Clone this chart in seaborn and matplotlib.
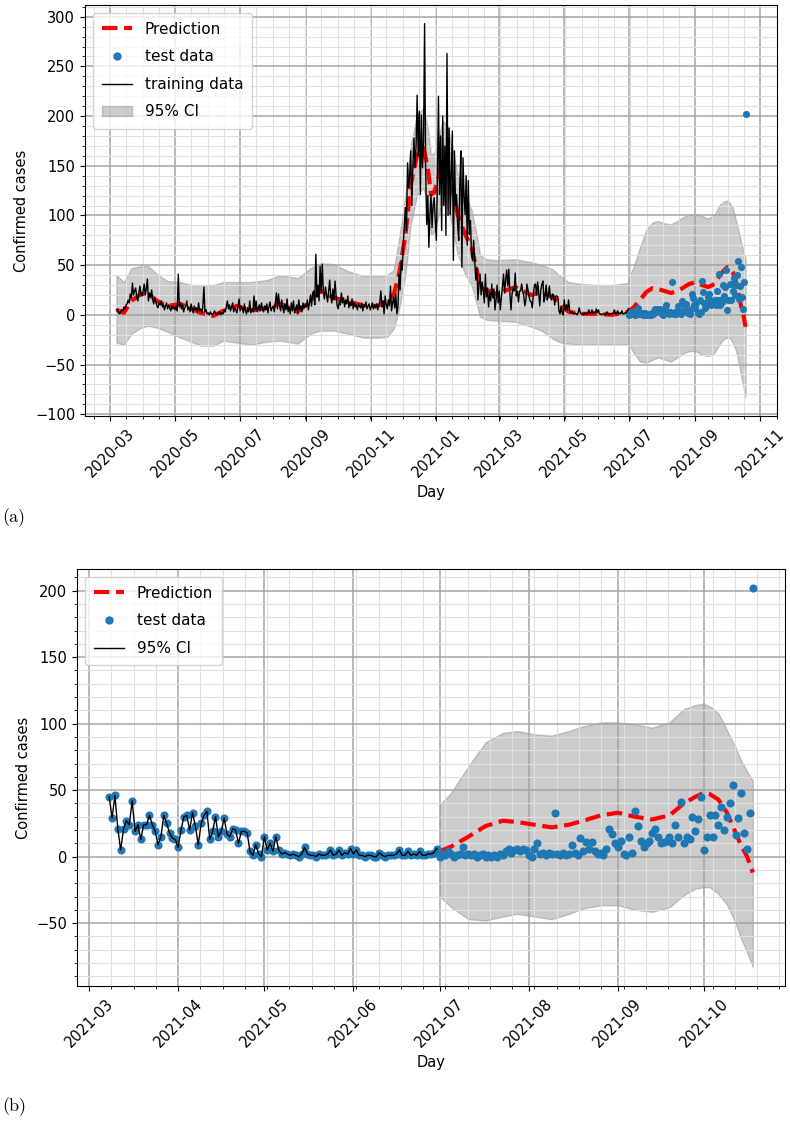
import numpy as np
import pandas as pd
import matplotlib
matplotlib.use("Agg")
import matplotlib.pyplot as plt
import matplotlib.dates as mdates
from matplotlib.lines import Line2D
from matplotlib.patches import Patch
import seaborn as sns

# ---------------- data ----------------
# daily training data, starting 2020-03-07
train_2020_03 = [5, 6, 2, 1, 3, 5, 4, 8, 6, 10, 11, 15, 12, 21, 17, 32, 20, 24, 27, 18, 14, 22, 29, 21, 19]
train_2020_04 = [24, 31, 20, 26, 36, 14, 22, 18, 25, 15, 11, 17, 13, 9, 7, 12, 10, 14, 8, 11, 5, 9, 12, 6, 10, 7, 4, 9, 6, 8]
train_2020_05 = [5, 9, 4, 41, 8, 12, 6, 10, 3, 7, 9, 14, 5, 8, 3, 11, 6, 2, 9, 5, 7, 3, 12, 4, 6, 2, 8, 28, 3, 5, 1]
train_2020_06 = [2, 0, 3, 1, 0, 2, 4, 1, 0, 2, 1, 3, 0, 2, 1, 5, 3, 8, 14, 6, 10, 4, 8, 12, 3, 7, 5, 2, 9, 16]
train_2020_07 = [4, 9, 6, 2, 11, 4, 1, 7, 3, 14, 2, 6, 3, 19, 5, 14, 3, 7, 10, 4, 12, 6, 3, 9, 5, 11, 2, 8, 13, 4, 7]
train_2020_08 = [9, 3, 12, 22, 6, 21, 9, 4, 15, 7, 2, 11, 5, 16, 3, 8, 1, 12, 4, 14, 2, 6, 10, 1, 15, 5, 9, 3, 12, 7, 10]
train_2020_09 = [8, 15, 5, 12, 20, 9, 22, 24, 10, 61, 18, 30, 14, 49, 22, 51, 25, 16, 28, 20, 13, 24, 35, 18, 12, 26, 15, 34, 19, 9]
train_2020_10 = [6, 14, 10, 22, 12, 17, 8, 15, 11, 19, 7, 13, 9, 16, 6, 12, 8, 10, 5, 11, 9, 7, 12, 4, 10, 8, 13, 6, 9, 11, 5]
train_2020_11 = [8, 12, 6, 10, 7, 11, 5, 9, 13, 24, 8, 14, 1, 19, 10, 6, 15, 9, 29, 4, 12, 18, 7, 21, 1, 8, 41, 25, 55, 45]
train_2020_12 = [70, 91, 108, 85, 153, 128, 140, 165, 110, 150, 178, 148, 170, 221, 160, 205, 121, 201, 148, 175,
                 293, 145, 91, 120, 68, 100, 121, 88, 110, 118, 95]
train_2021_01 = [75, 135, 220, 121, 180, 85, 200, 110, 170, 80, 263, 100, 188, 101, 140, 185, 55, 165, 110, 121,
                 90, 75, 130, 165, 48, 158, 120, 101, 140, 70, 135]
train_2021_02 = [81, 95, 60, 55, 75, 55, 35, 48, 15, 30, 41, 20, 33, 25, 12, 41, 18, 27, 8, 22, 14, 31, 17, 26, 5, 15, 30, 12]
train_2021_03a = [24, 5, 18, 28, 41, 22, 35]
# 2021-03-08 .. 2021-06-30 (also shown in panel b)
train_recent = [45, 29, 46, 21, 5, 21, 27, 24, 42, 19, 24, 13, 24, 24, 31, 24, 19, 9, 15, 31, 25, 18, 14, 13, 7,
                20, 30, 31, 20, 33, 23, 9, 25, 31, 34, 13, 19, 30, 15, 19, 29, 17, 15, 21, 20, 10, 19, 19, 18, 4,
                1, 9, 2, 0, 15, 5, 10, 4, 15, 5, 2,
                3, 2, 1, 2, 1, 0, 2, 7, 2, 1, 1, 0, 2, 1, 1, 2, 5, 1, 2, 5, 1, 3, 2, 6, 2, 5, 1, 1, 0, 1, 1, 0,
                0, 3, 1, 0, 1, 1, 1, 2, 5, 1, 1, 4, 1, 2, 1, 4, 1, 1, 2, 2, 3, 6]
# daily test data, starting 2021-07-01
test_values = [0, 2, 1, 4, 2, 0, 1, 2, 7, 1, 2, 1, 2, 0, 1, 2, 0, 1, 0, 1,
               0, 2, 1, 4, 6, 3, 5, 6, 4, 6, 5, 1, 0, 6, 10, 2, 3, 1, 3, 2,
               33, 2, 1, 3, 1, 2, 9, 3, 1, 14, 4, 11, 6, 11, 4, 2, 3, 1, 6, 21,
               17, 10, 7, 12, 2, 1, 15, 3, 34, 23, 12, 7, 10, 12, 18, 21, 15, 10, 11, 12,
               15, 10, 24, 15, 41, 10, 15, 13, 30, 19, 28, 45, 5, 15, 31, 15, 31, 24, 37, 20,
               30, 40, 54, 16, 29, 48, 18, 6, 33, 202]

# prediction mean and 95% CI at read-off dates
pred_dates = ["2020-03-07", "2020-03-14", "2020-03-21", "2020-03-30", "2020-04-06", "2020-04-14", "2020-04-24",
              "2020-05-06", "2020-05-16", "2020-05-25", "2020-06-06", "2020-06-15", "2020-06-28", "2020-07-11",
              "2020-07-26", "2020-08-08", "2020-08-24", "2020-09-05", "2020-09-14", "2020-09-27", "2020-10-10",
              "2020-10-25", "2020-11-07", "2020-11-16", "2020-11-22", "2020-11-27", "2020-12-03", "2020-12-08",
              "2020-12-14", "2020-12-20", "2020-12-24", "2020-12-27", "2020-12-30", "2021-01-07", "2021-01-11",
              "2021-01-16", "2021-01-21", "2021-01-28", "2021-02-03", "2021-02-08", "2021-02-11", "2021-02-17",
              "2021-02-26", "2021-03-16", "2021-03-31", "2021-04-10", "2021-04-20", "2021-04-28", "2021-05-05",
              "2021-05-17", "2021-06-01", "2021-06-15", "2021-06-30",
              "2021-07-01", "2021-07-05", "2021-07-11", "2021-07-17", "2021-07-23", "2021-07-28", "2021-08-03",
              "2021-08-09", "2021-08-15", "2021-08-20", "2021-08-26", "2021-09-01", "2021-09-07", "2021-09-13",
              "2021-09-19", "2021-09-24", "2021-09-28", "2021-10-01", "2021-10-03", "2021-10-06", "2021-10-09",
              "2021-10-12", "2021-10-14", "2021-10-16", "2021-10-18"]
pred_values = [5, 2, 14, 21, 21, 14, 9, 11, 6, 2, -1, 4, 9, 4, 7, 11, 3, 14, 24, 17, 14, 9, 9, 14, 20, 41, 80, 131,
               161, 168, 148, 121, 123, 155, 151, 128, 101, 81, 68, 45, 28, 25, 21, 28, 20, 23, 18, 10, 3, 1, 1, 0, 3,
               4, 7.5, 15, 23, 27, 26, 24, 22, 24, 27, 31, 33, 30, 28, 31, 40, 45, 48, 47, 43, 33, 18, 8, 0, -12]
ci_lower = [-28, -30, -19, -13, -11, -13, -17, -23, -27, -31, -31, -26, -28, -30, -27, -26, -29, -19, -16, -16, -19,
            -23, -23, -22, -14, 5, 40, 91, 121, 128, 108, 81, 83, 115, 111, 88, 61, 41, 30, 10, -2, -5, -6, -7, -12,
            -16, -24, -28, -29, -30, -30, -30, -30,
            -30, -38, -47, -48, -45, -43, -45, -47, -43, -39, -36.5, -36.5, -40, -41.5, -38, -29, -24, -23, -23, -28,
            -36, -50, -62, -72, -83]
ci_upper = [40, 33, 47, 49, 49, 41, 34, 33, 30, 30, 30, 33, 33, 33, 35, 40, 37, 47, 52, 51, 44, 39, 39, 40, 45, 76,
            120, 171, 201, 208, 188, 161, 163, 195, 191, 168, 141, 121, 106, 80, 60, 56, 55, 56, 53, 50, 46, 38, 33,
            31, 30, 30, 32,
            39, 48, 68, 86, 93, 94.5, 92, 91, 94.5, 98, 101, 101, 99.5, 97, 101, 111, 114, 115, 113, 108, 95, 82, 72,
            64, 57]

# ---------------- assemble ----------------
train_values = (train_2020_03 + train_2020_04 + train_2020_05 + train_2020_06 + train_2020_07 + train_2020_08
                + train_2020_09 + train_2020_10 + train_2020_11 + train_2020_12 + train_2021_01 + train_2021_02
                + train_2021_03a + train_recent)
train_dates = pd.date_range("2020-03-07", periods=len(train_values), freq="D")
recent_dates = train_dates[-len(train_recent):]
test_dates = pd.date_range("2021-07-01", periods=len(test_values), freq="D")
pdates = pd.to_datetime(pred_dates)
pred_s = pd.Series(pred_values, index=pdates)
lo_s = pd.Series(ci_lower, index=pdates)
hi_s = pd.Series(ci_upper, index=pdates)
test_start = pd.Timestamp("2021-07-01")

plt.rcParams["font.size"] = 10.5
plt.rcParams["font.family"] = ["DejaVu Sans"]

BLUE = "#1f77b4"
BAND = dict(color="gray", alpha=0.4)

fig = plt.figure(figsize=(7.9, 11.27), dpi=100)
ax1 = fig.add_axes([85 / 790, 1 - 416 / 1127, 692 / 790, 411 / 1127])
ax2 = fig.add_axes([77 / 790, 1 - 986 / 1127, 708 / 790, 417 / 1127])

# ---- panel (a) ----
ax1.fill_between(pdates, lo_s.values, hi_s.values, zorder=1, **BAND)
sns.lineplot(x=pdates, y=pred_s.values, color="red", linestyle="--", linewidth=3, ax=ax1, zorder=2)
sns.lineplot(x=train_dates, y=train_values, color="black", linewidth=1, ax=ax1, zorder=3)
sns.scatterplot(x=test_dates, y=test_values, color=BLUE, s=26, linewidth=0, ax=ax1, zorder=4)

# ---- panel (b) ----
m = pdates >= test_start
ax2.fill_between(pdates[m], lo_s.values[m], hi_s.values[m], zorder=1, **BAND)
sns.lineplot(x=pdates[m], y=pred_s.values[m], color="red", linestyle="--", linewidth=3, ax=ax2, zorder=2)
all_dates = recent_dates.append(test_dates)
all_vals = list(train_recent) + list(test_values)
sns.scatterplot(x=all_dates, y=all_vals, color=BLUE, s=34, linewidth=0, ax=ax2, zorder=3)
sns.lineplot(x=recent_dates, y=train_recent, color="black", linewidth=1, ax=ax2, zorder=4)

for ax, months in ((ax1, range(1, 13, 2)), (ax2, range(1, 13))):
    ax.xaxis.set_major_locator(mdates.MonthLocator(bymonth=list(months)))
    ax.xaxis.set_major_formatter(mdates.DateFormatter("%Y-%m"))
    ax.minorticks_on()
    ax.grid(which="major", color="#a4a4a4", linewidth=1.1)
    ax.grid(which="minor", color="#e0e0e0", linewidth=0.8)
    ax.tick_params(axis="x", labelrotation=45)
    ax.set_xlabel("Day")
    ax.set_ylabel("Confirmed cases")

h_pred = Line2D([], [], color="red", linestyle="--", linewidth=3)
h_test = Line2D([], [], color=BLUE, marker="o", linestyle="", markersize=5)
h_train = Line2D([], [], color="black", linewidth=1)
h_ci = Patch(facecolor="gray", edgecolor="gray", alpha=0.4)
leg_kw = dict(loc="upper left", fontsize=11, labelspacing=0.82, borderpad=0.6)
ax1.legend([h_pred, h_test, h_train, h_ci], ["Prediction", "test data", "training data", "95% CI"], **leg_kw)
ax2.legend([h_pred, h_test, h_train], ["Prediction", "test data", "95% CI"], **leg_kw)

fig.text(0.003, 1 - 518 / 1127, "(a)", fontfamily="cmr10", fontsize=13, va="center")
fig.text(0.003, 1 - 1107 / 1127, "(b)", fontfamily="cmr10", fontsize=13, va="center")

fig.savefig("out.png", dpi=100)
